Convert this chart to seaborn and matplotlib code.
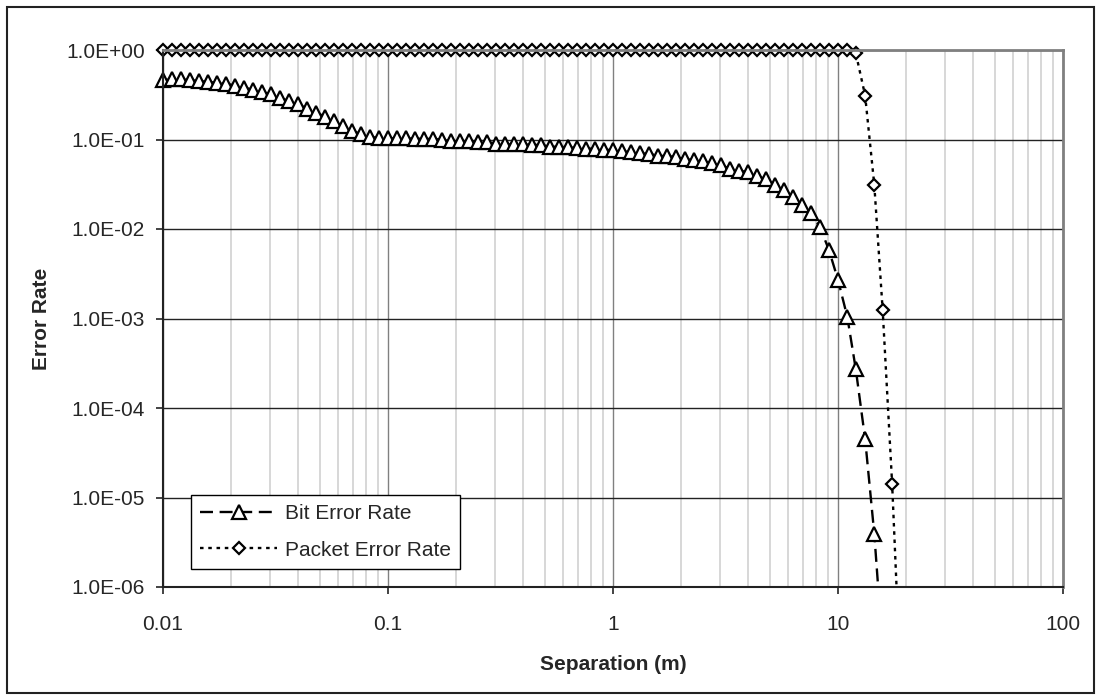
import numpy as np
import pandas as pd
import matplotlib
matplotlib.use('Agg')
import matplotlib.pyplot as plt
import seaborn as sns
from matplotlib.ticker import FuncFormatter, LogLocator, NullFormatter
from matplotlib.patches import Rectangle
from matplotlib.transforms import Bbox, TransformedBbox

sns.set_style("white")
plt.rcParams['font.family'] = ['Liberation Sans', 'DejaVu Sans']

# separation (m), points (about 25 per decade)
sep = [0.01, 0.011, 0.012, 0.0132, 0.0145, 0.0158, 0.0174, 0.0191, 0.0209, 0.0229,
       0.0251, 0.0275, 0.0302, 0.0331, 0.0363, 0.0398, 0.0437, 0.0479, 0.0525, 0.0575,
       0.0631, 0.0692, 0.0759, 0.0832, 0.0912,
       0.1, 0.11, 0.12, 0.132, 0.145, 0.158, 0.174, 0.191, 0.209, 0.229,
       0.251, 0.275, 0.302, 0.331, 0.363, 0.398, 0.437, 0.479, 0.525, 0.575,
       0.631, 0.692, 0.759, 0.832, 0.912,
       1.0, 1.1, 1.2, 1.32, 1.45, 1.58, 1.74, 1.91, 2.09, 2.29,
       2.51, 2.75, 3.02, 3.31, 3.63, 3.98, 4.37, 4.79, 5.25, 5.75,
       6.31, 6.92, 7.59, 8.32, 9.12,
       10.0, 11.0, 12.0, 13.2, 14.5, 15.8, 17.4, 19.1]

ber = [0.46, 0.47, 0.47, 0.46, 0.45, 0.44, 0.43, 0.42, 0.40, 0.38,
       0.36, 0.34, 0.32, 0.29, 0.27, 0.25, 0.22, 0.20, 0.18, 0.16,
       0.14, 0.125, 0.115, 0.107, 0.104, 0.103, 0.103, 0.103, 0.102, 0.102,
       0.101, 0.100, 0.096, 0.095, 0.095, 0.094, 0.094, 0.089, 0.088, 0.088,
       0.088, 0.087, 0.087, 0.083, 0.083, 0.082, 0.080, 0.079, 0.079, 0.077,
       0.076, 0.074, 0.072, 0.070, 0.069, 0.066, 0.065, 0.064, 0.060, 0.059,
       0.057, 0.054, 0.052, 0.047, 0.045, 0.043, 0.039, 0.036, 0.031, 0.027,
       0.023, 0.0185, 0.015, 0.0105, 0.0058, 0.0027, 0.00104, 0.00027, 4.5e-5, 3.9e-6,
       2e-7]

per = [1.0] * 77 + [0.92, 0.31, 0.031, 1.23e-3, 1.43e-5, 6e-8]

ber_df = pd.DataFrame({'sep': sep[:len(ber)], 'rate': ber})
per_df = pd.DataFrame({'sep': sep[:len(per)], 'rate': per})

fig = plt.figure(figsize=(11.01, 7.0), dpi=100)
ax = fig.add_axes([163 / 1101, 113 / 700, 900 / 1101, 537 / 700])

line_kw = dict(color='black', linewidth=1.7, markerfacecolor='white',
               markeredgecolor='black', markeredgewidth=1.6,
               estimator=None, errorbar=None, ax=ax)
sns.lineplot(data=ber_df, x='sep', y='rate', label='Bit Error Rate',
             marker='^', markersize=9.5, linestyle=(0, (5.5, 2.8)), **line_kw)
sns.lineplot(data=per_df, x='sep', y='rate', label='Packet Error Rate',
             marker='D', markersize=6.5, linestyle=(0, (1.5, 2.0)), **line_kw)

ax.set_xscale('log')
ax.set_yscale('log')
ax.set_xlim(0.01, 100)
ax.set_ylim(1e-6, 1)

# let markers spill over the top/left edge like Excel, clip at the bottom
clip = TransformedBbox(Bbox([[-0.03, 0.0], [1.0, 1.04]]), ax.transAxes)
for ln in ax.get_lines():
    ln.set_clip_box(clip)

ax.xaxis.set_major_locator(LogLocator(base=10, numticks=10))
ax.xaxis.set_minor_locator(LogLocator(base=10, subs=np.arange(2, 10), numticks=10))
ax.xaxis.set_minor_formatter(NullFormatter())
ax.xaxis.set_major_formatter(FuncFormatter(lambda v, p: f"{v:g}"))
ax.yaxis.set_major_locator(LogLocator(base=10, numticks=10))
ax.yaxis.set_minor_locator(LogLocator(base=10, subs=[], numticks=10))
ax.yaxis.set_major_formatter(FuncFormatter(lambda v, p: f"{v:.1E}"))

ax.grid(True, which='minor', axis='x', color='#d4d4d4', linewidth=1.3)
ax.grid(True, which='major', axis='x', color='#808080', linewidth=1.0)
ax.grid(True, which='major', axis='y', color='#222222', linewidth=1.0)
ax.set_axisbelow(True)

ax.tick_params(axis='both', which='major', direction='out', length=5, width=1.2,
               color='#222222', labelsize=15, bottom=True, left=True)
ax.tick_params(axis='x', which='major', pad=15)
ax.tick_params(axis='y', which='major', pad=8)
ax.tick_params(axis='x', which='minor', length=0)

for side in ['left', 'bottom']:
    ax.spines[side].set_color('#222222')
    ax.spines[side].set_linewidth(1.5)
for side in ['top', 'right']:
    ax.spines[side].set_color('#808080')
    ax.spines[side].set_linewidth(2)

ax.set_xlabel('Separation (m)', fontsize=15, fontweight='bold', labelpad=15)
ax.set_ylabel('Error Rate', fontsize=15, fontweight='bold', labelpad=11)

leg = ax.legend(loc='lower left', bbox_to_anchor=(28 / 900, 18 / 537),
                borderaxespad=0, fontsize=15, frameon=True, fancybox=False,
                framealpha=1, edgecolor='black', handlelength=3.7,
                handletextpad=0.35, borderpad=0.45, labelspacing=0.85)
leg.get_frame().set_linewidth(1.0)

fig.patches.append(Rectangle((7 / 1101, 7 / 700), 1087 / 1101, 686 / 700,
                             transform=fig.transFigure, fill=False,
                             edgecolor='#222222', linewidth=1.5))

plt.savefig('out.png', dpi=100)
plt.close()
